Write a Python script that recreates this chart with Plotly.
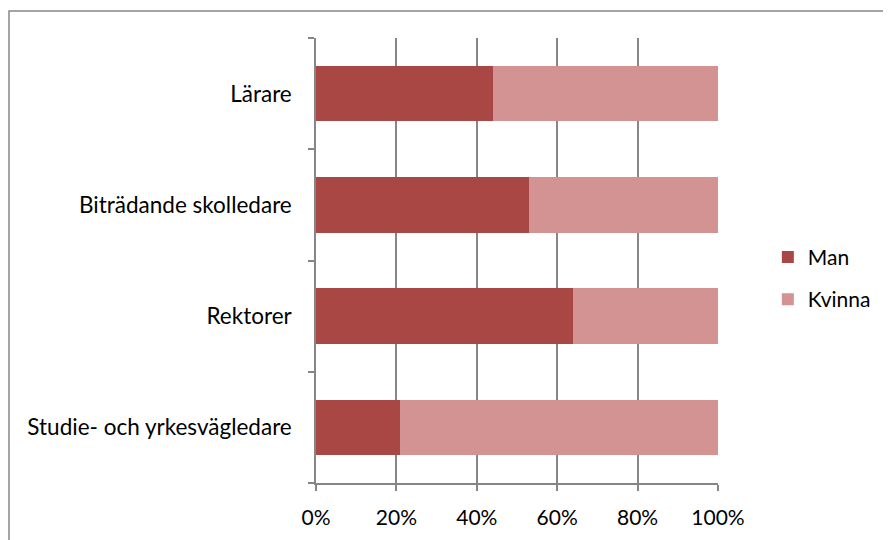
import plotly.graph_objects as go

categories = ["Lärare", "Biträdande skolledare", "Rektorer", "Studie- och yrkesvägledare"]
man = [44, 53, 64, 21]
kvinna = [56, 47, 36, 79]
x_ticks = [0, 20, 40, 60, 80, 100]
x_tick_labels = ["0%", "20%", "40%", "60%", "80%", "100%"]

FONT = "Lato"
AXIS_COLOR = "#868686"

fig = go.Figure()
fig.add_trace(go.Bar(y=categories, x=man, name="Man", orientation="h", legendgroup="a",
                     marker=dict(color="#A94744", line=dict(width=0))))
fig.add_trace(go.Bar(y=categories, x=kvinna, name="Kvinna", orientation="h", legendgroup="b",
                     marker=dict(color="#D39392", line=dict(width=0))))

fig.update_layout(
    width=891, height=540,
    barmode="stack", bargap=0.5,
    paper_bgcolor="white", plot_bgcolor="white",
    margin=dict(l=308, r=181, t=30, b=65, autoexpand=False),
    font=dict(family=FONT, size=21, color="#000000"),
    showlegend=True,
    legend=dict(x=1.124, y=0.46, xanchor="left", yanchor="middle",
                font=dict(size=21), traceorder="grouped",
                tracegroupgap=12, bgcolor="rgba(0,0,0,0)"),
    xaxis=dict(range=[0, 100], tickvals=x_ticks, ticktext=x_tick_labels,
               tickfont=dict(size=21),
               showgrid=True, gridcolor=AXIS_COLOR, gridwidth=1.5,
               showline=True, linecolor=AXIS_COLOR, linewidth=1.5,
               ticks="outside", ticklen=6, tickcolor=AXIS_COLOR, tickwidth=1.5,
               zeroline=False, fixedrange=True, ticklabelstandoff=9),
    yaxis=dict(categoryorder="array", categoryarray=categories[::-1],
               tickfont=dict(size=22.5),
               showline=True, linecolor=AXIS_COLOR, linewidth=1.5,
               ticks="outside", ticklen=6, tickcolor=AXIS_COLOR, tickwidth=1.5,
               tickson="boundaries", showgrid=False, ticklabelstandoff=18),
    shapes=[dict(type="rect", xref="paper", yref="paper",
                 x0=(1 - 308) / 402, x1=2.0, y0=-0.3, y1=(475 - 3) / 445,
                 line=dict(color=AXIS_COLOR, width=1.5), fillcolor="rgba(0,0,0,0)",
                 layer="below")],
)

fig.write_html("out.html")
